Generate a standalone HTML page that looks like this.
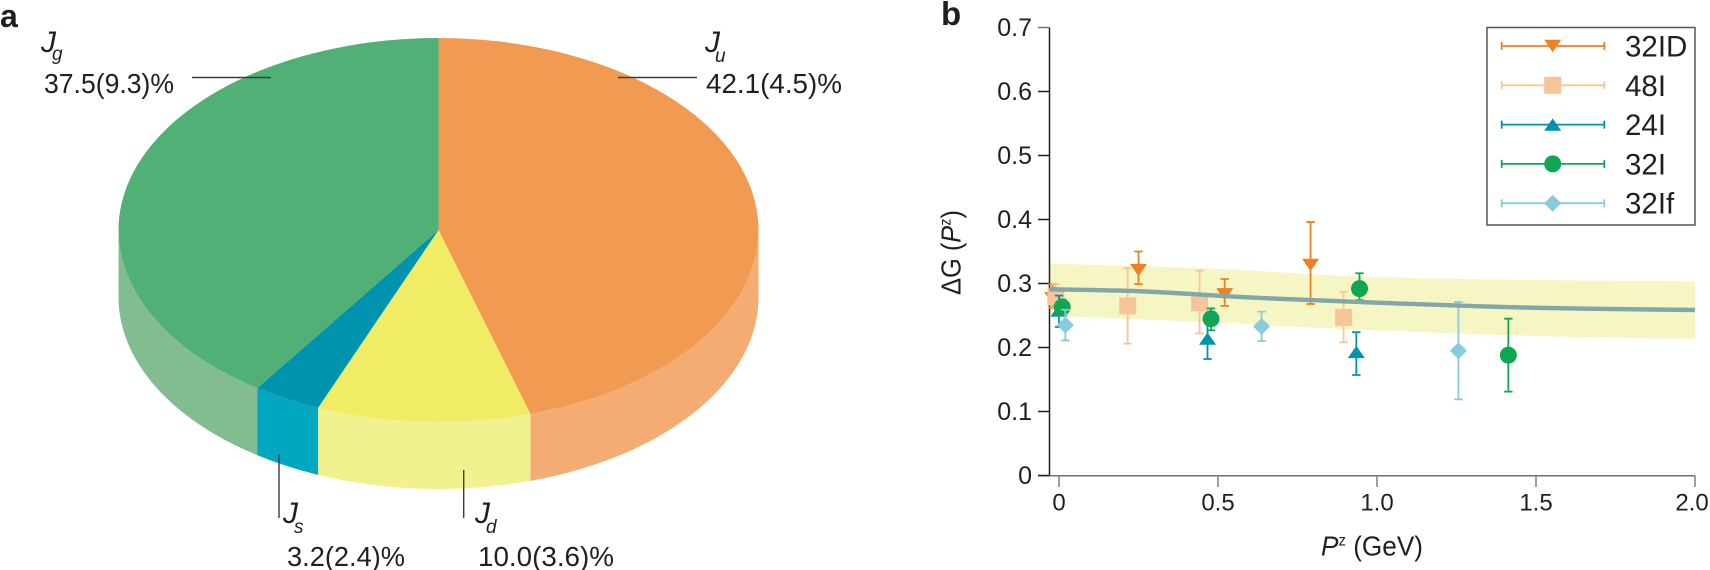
<!DOCTYPE html>
<html lang="en">
<head>
<meta charset="utf-8">
<title>Proton spin decomposition and gluon helicity</title>
<style>
html,body{margin:0;padding:0;background:#fff;width:1710px;height:570px;overflow:hidden}
svg{display:block}
text{font-family:"Liberation Sans",sans-serif;fill:#231f20}
</style>
</head>
<body>
<svg id="fig" xmlns="http://www.w3.org/2000/svg" width="1710" height="570" viewBox="0 0 1710 570">
  <g id="pie"></g>
  <g id="pie-annotations">
    <text x="0" y="27" font-size="32" font-weight="bold">a</text>
    <line x1="192" y1="77.5" x2="271" y2="77.5" stroke="#3c3c3c" stroke-width="1.4"/>
    <line x1="618" y1="77.5" x2="697" y2="77.5" stroke="#3c3c3c" stroke-width="1.4"/>
    <line x1="279" y1="454" x2="279" y2="518" stroke="#3c3c3c" stroke-width="1.4"/>
    <line x1="463.7" y1="470" x2="463.7" y2="518" stroke="#3c3c3c" stroke-width="1.4"/>
    <text x="41" y="52" font-size="30" font-style="italic">J</text>
    <text x="52" y="60" font-size="19" font-style="italic">g</text>
    <text x="44" y="93" font-size="28" textLength="130" lengthAdjust="spacingAndGlyphs">37.5(9.3)%</text>
    <text x="705" y="52" font-size="30" font-style="italic">J</text>
    <text x="715" y="62" font-size="19" font-style="italic">u</text>
    <text x="706" y="93" font-size="28" textLength="136" lengthAdjust="spacingAndGlyphs">42.1(4.5)%</text>
    <text x="283" y="523" font-size="30" font-style="italic">J</text>
    <text x="294" y="533" font-size="19" font-style="italic">s</text>
    <text x="287" y="566" font-size="28" textLength="118" lengthAdjust="spacingAndGlyphs">3.2(2.4)%</text>
    <text x="475" y="523" font-size="30" font-style="italic">J</text>
    <text x="486" y="533" font-size="19" font-style="italic">d</text>
    <text x="478" y="566" font-size="28" textLength="136" lengthAdjust="spacingAndGlyphs">10.0(3.6)%</text>
  </g>
  <g id="chart">
    <text x="941" y="25" font-size="33" font-weight="bold">b</text>
    <g id="band-layer"></g>
    <g id="axes"></g>
    <g id="marks"></g>
    <g id="curve-layer"></g>
    <g id="legend"></g>
    <text transform="translate(960.5 252.5) rotate(-90)" text-anchor="middle" font-size="28" textLength="85" lengthAdjust="spacingAndGlyphs">ΔG (<tspan font-style="italic">P</tspan><tspan font-size="16" dy="-10">z</tspan><tspan dy="10">)</tspan></text>
    <text x="1321" y="555.5" font-size="28" textLength="102" lengthAdjust="spacingAndGlyphs"><tspan font-style="italic">P</tspan><tspan font-size="16" dy="-10">z</tspan><tspan dy="10"> (GeV)</tspan></text>
  </g>
</svg>
<script>
// Pie data (printed percentages; the slices are drawn normalised to their sum)
const pieNames = ['ju', 'jd', 'js', 'jg'];
const pieValues = [42.1, 10.0, 3.2, 37.5];
const pieTopColors = ['#f19a52', '#f0ec66', '#0093ad', '#51b075'];
const pieSideColors = ['#f4ac72', '#f1f190', '#00a7c1', '#82bd92'];

// Chart axis data
const yTicks = [0, 0.1, 0.2, 0.3, 0.4, 0.5, 0.6, 0.7];
const yTickLabels = ['0', '0.1', '0.2', '0.3', '0.4', '0.5', '0.6', '0.7'];
const xTicks = [0, 0.5, 1.0, 1.5, 2.0];
const xTickLabels = ['0', '0.5', '1.0', '1.5', '2.0'];

// Band and curve
const curveX = [-0.03, 0.25, 0.5, 0.695, 1.0, 1.5, 2.0];
const curveMid = [0.291, 0.288, 0.281, 0.276, 0.27, 0.262, 0.2586];
const curveHigh = [0.331, 0.327, 0.323, 0.3175, 0.31, 0.3055, 0.3034];
const curveLow = [0.25, 0.244, 0.239, 0.2336, 0.2269, 0.218, 0.2132];

// Series
const id32X = [-0.02, 0.25, 0.521, 0.791];
const id32Y = [0.277, 0.321, 0.283, 0.329];
const id32Hi = [0.299, 0.35, 0.307, 0.396];
const id32Lo = [0.262, 0.299, 0.265, 0.268];

const i48X = [-0.01, 0.216, 0.442, 0.895];
const i48Y = [0.279, 0.265, 0.27, 0.247];
const i48Hi = [0.299, 0.324, 0.32, 0.287];
const i48Lo = [0.262, 0.206, 0.222, 0.208];

const i24X = [0, 0.467, 0.935];
const i24Y = [0.258, 0.214, 0.193];
const i24Hi = [0.281, 0.246, 0.224];
const i24Lo = [0.232, 0.182, 0.157];

const i32X = [0.01, 0.478, 0.945, 1.413];
const i32Y = [0.263, 0.245, 0.292, 0.188];
const i32Hi = [0.275, 0.261, 0.316, 0.245];
const i32Lo = [0.25, 0.227, 0.274, 0.131];

const f32X = [0.02, 0.637, 1.256];
const f32Y = [0.235, 0.233, 0.195];
const f32Hi = [0.259, 0.256, 0.271];
const f32Lo = [0.211, 0.21, 0.119];

const NS = 'http://www.w3.org/2000/svg';
function make(tag, attrs, parent) {
  const el = document.createElementNS(NS, tag);
  for (const k in attrs) el.setAttribute(k, attrs[k]);
  parent.appendChild(el);
  return el;
}

/* ---------- Pie ---------- */
const cx = 438.5, cy = 230, rx = 320, ry = 192, depth = 67;
function pt(deg, dy) {
  const a = deg * Math.PI / 180;
  return [cx + rx * Math.sin(a), cy - ry * Math.cos(a) + (dy || 0)];
}
const pieGroup = document.getElementById('pie');
const pieTotal = pieValues.reduce(function (a, b) { return a + b; }, 0);
let pieStart = 0;
pieValues.forEach(function (v, i) {
  const pieEnd = pieStart + v / pieTotal * 360;
  const s0 = Math.max(pieStart, 90), s1 = Math.min(pieEnd, 270);
  if (s1 > s0) {
    const a = pt(s0), b = pt(s1), c = pt(s1, depth), d = pt(s0, depth);
    const side = make('path', {
      d: 'M' + a[0] + ' ' + a[1] + 'A' + rx + ' ' + ry + ' 0 0 1 ' + b[0] + ' ' + b[1] +
         'L' + c[0] + ' ' + c[1] + 'A' + rx + ' ' + ry + ' 0 0 0 ' + d[0] + ' ' + d[1] + 'Z',
      fill: pieSideColors[i]
    }, pieGroup);
    
    
  }
  const p0 = pt(pieStart), p1 = pt(pieEnd);
  const large = (pieEnd - pieStart) > 180 ? 1 : 0;
  const top = make('path', {
    d: 'M' + cx + ' ' + cy + 'L' + p0[0] + ' ' + p0[1] + 'A' + rx + ' ' + ry + ' 0 ' + large + ' 1 ' + p1[0] + ' ' + p1[1] + 'Z',
    fill: pieTopColors[i]
  }, pieGroup);
  
  
  pieStart = pieEnd;
});

/* ---------- Chart scales ---------- */
const X0 = 1059, XU = 318, Y0 = 475.5, YU = 640;
function sx(v) { return X0 + v * XU; }
function sy(v) { return Y0 - v * YU; }

// Smooth path through the given values (Catmull-Rom segments), without the leading move
function smoothSegs(xs, ys) {
  const p = xs.map(function (x, i) { return [sx(x), sy(ys[i])]; });
  let d = '';
  for (let i = 0; i < p.length - 1; i++) {
    const a = p[Math.max(i - 1, 0)], b = p[i], c = p[i + 1], e = p[Math.min(i + 2, p.length - 1)];
    d += 'C' + (b[0] + (c[0] - a[0]) / 6) + ' ' + (b[1] + (c[1] - a[1]) / 6) + ' ' +
         (c[0] - (e[0] - b[0]) / 6) + ' ' + (c[1] - (e[1] - b[1]) / 6) + ' ' + c[0] + ' ' + c[1];
  }
  return d;
}

/* ---------- Band and curve ---------- */
const bandD = 'M' + sx(curveX[0]) + ' ' + sy(curveHigh[0]) + smoothSegs(curveX, curveHigh) +
  'L' + sx(curveX[curveX.length - 1]) + ' ' + sy(curveLow[curveLow.length - 1]) +
  smoothSegs(curveX.slice().reverse(), curveLow.slice().reverse()) + 'Z';
const band = make('path', { d: bandD, fill: '#f6f6c4' }, document.getElementById('band-layer'));



const curve = make('path', {
  d: 'M' + sx(curveX[0]) + ' ' + sy(curveMid[0]) + smoothSegs(curveX, curveMid),
  fill: 'none', stroke: '#82a6a9', 'stroke-width': 4.4
}, document.getElementById('curve-layer'));



/* ---------- Axes ---------- */
const axes = document.getElementById('axes');
const yLine = make('line', { x1: 1049.5, y1: sy(0.7), x2: 1049.5, y2: Y0, stroke: '#231f20', 'stroke-width': 1.5 }, axes);


const xLine = make('line', { x1: 1038, y1: Y0 + 0.3, x2: 1695, y2: Y0 + 0.3, stroke: '#6f6f6f', 'stroke-width': 1.5 }, axes);



yTicks.forEach(function (v, i) {
  const t = make('line', { x1: 1038, y1: sy(v), x2: 1049.5, y2: sy(v), stroke: i === 7 ? '#777' : '#231f20', 'stroke-width': 1.5 }, axes);
  
  
  const l = make('text', { x: 1032, y: sy(v) + 8.7, 'text-anchor': 'end', 'font-size': 25 }, axes);
  l.textContent = yTickLabels[i];
  
  
});
xTicks.forEach(function (v, i) {
  const t = make('line', { x1: sx(v), y1: Y0, x2: sx(v), y2: Y0 + 11.5, stroke: '#888', 'stroke-width': 1.6 }, axes);
  
  
  const l = make('text', { x: Math.min(sx(v), 1692), y: 510.5, 'text-anchor': 'middle', 'font-size': 24 }, axes);
  l.textContent = xTickLabels[i];
  
  
});

/* ---------- Markers ---------- */
function marker(shape, x, y, color, parent) {
  const s = 8.5;
  if (shape === 'down') return make('polygon', { points: [x - s, y - 6.2, x + s, y - 6.2, x, y + 6.2].join(' '), fill: color }, parent);
  if (shape === 'up') return make('polygon', { points: [x - s, y + 6.2, x + s, y + 6.2, x, y - 6.2].join(' '), fill: color }, parent);
  if (shape === 'square') return make('rect', { x: x - s, y: y - s, width: 2 * s, height: 2 * s, fill: color }, parent);
  if (shape === 'circle') return make('circle', { cx: x, cy: y, r: s, fill: color }, parent);
  return make('polygon', { points: [x - s, y, x, y - s, x + s, y, x, y + s].join(' '), fill: color }, parent);
}

const seriesList = [
  { key: '32id', label: '32ID', shape: 'down', color: '#ee7f22', x: id32X, y: id32Y, hi: id32Hi, lo: id32Lo },
  { key: '48i', label: '48I', shape: 'square', color: '#f8c59a', x: i48X, y: i48Y, hi: i48Hi, lo: i48Lo },
  { key: '24i', label: '24I', shape: 'up', color: '#0093ad', x: i24X, y: i24Y, hi: i24Hi, lo: i24Lo },
  { key: '32i', label: '32I', shape: 'circle', color: '#11a654', x: i32X, y: i32Y, hi: i32Hi, lo: i32Lo },
  { key: '32if', label: '32If', shape: 'diamond', color: '#89cbdb', x: f32X, y: f32Y, hi: f32Hi, lo: f32Lo }
];

const marks = document.getElementById('marks');
seriesList.forEach(function (s) {
  const g = make('g', {}, marks);
  
  
  s.x.forEach(function (xv, i) {
    const px = sx(xv), top = sy(s.hi[i]), bot = sy(s.lo[i]);
    const d = 'M' + px + ' ' + top + 'V' + bot +
      'M' + (px - 4.2) + ' ' + top + 'H' + (px + 4.2) +
      'M' + (px - 4.2) + ' ' + bot + 'H' + (px + 4.2);
    const err = make('path', { d: d, fill: 'none', stroke: s.color, 'stroke-width': 1.8 }, g);
    
    
    const m = marker(s.shape, px, sy(s.y[i]), s.color, g);
    
    
  });
});

/* ---------- Legend ---------- */
const legend = document.getElementById('legend');
const box = make('rect', { x: 1487, y: 27.5, width: 208, height: 197.5, fill: '#fff', stroke: '#555', 'stroke-width': 1.5 }, legend);


seriesList.forEach(function (s, i) {
  const ly = 46 + i * 39.3;
  const g = make('g', {}, legend);
  
  
  const path = 'M1501.7 ' + ly + 'H1604.3M1501.7 ' + (ly - 4) + 'V' + (ly + 4) + 'M1604.3 ' + (ly - 4) + 'V' + (ly + 4);
  const ln = make('path', { d: path, fill: 'none', stroke: s.color, 'stroke-width': 1.8 }, g);
  
  
  const m = marker(s.shape, 1552.7, ly, s.color, g);
  
  
  const t = make('text', { x: 1625, y: ly + 10.5, 'font-size': 29.5 }, g);
  t.textContent = s.label;
  
  
});
</script>
</body>
</html>
